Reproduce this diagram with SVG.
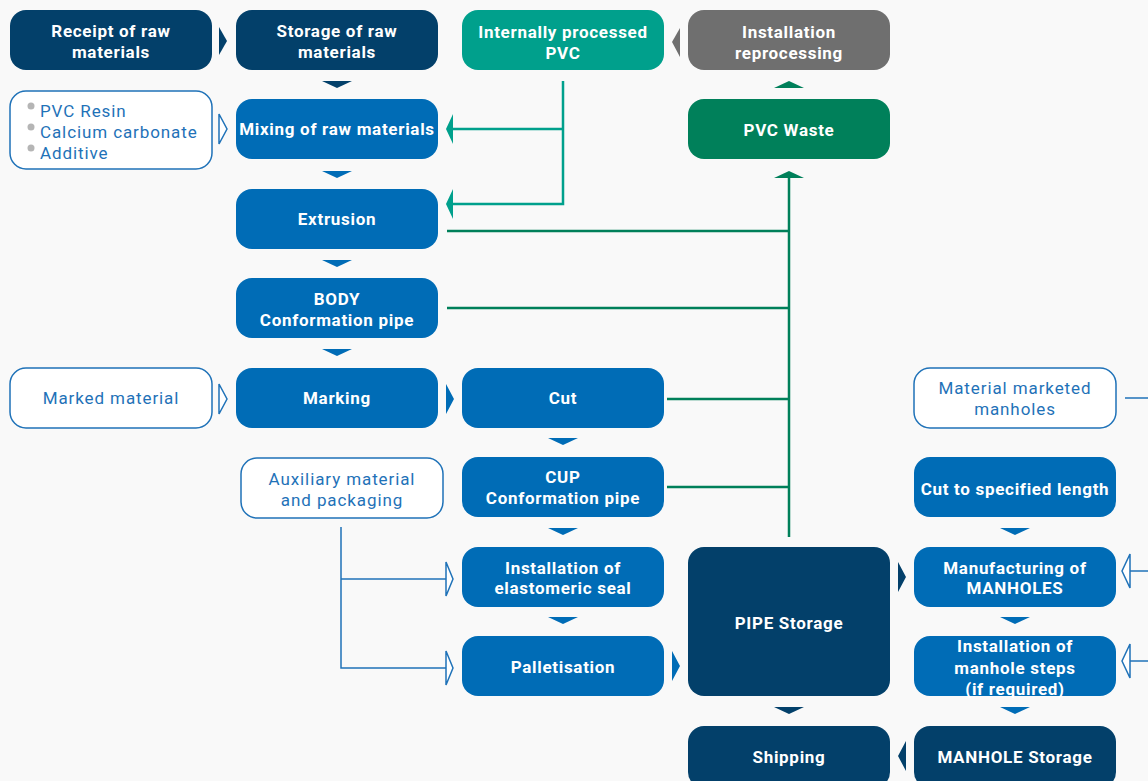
<svg xmlns="http://www.w3.org/2000/svg" width="1148" height="781" viewBox="0 0 1148 781">
<style>
.n{fill:#03406a}
.b{fill:#006cb6}
.w{fill:#ffffff;stroke:#1f72b8;stroke-width:1.5}
.t{font-family:Roboto,"Liberation Sans",sans-serif;font-weight:bold;font-size:17px;letter-spacing:0.7px;fill:#ffffff;text-anchor:middle}
.r{font-family:Roboto,"Liberation Sans",sans-serif;font-size:17px;letter-spacing:0.9px;fill:#1f72b8;text-anchor:middle}
.rl{font-family:Roboto,"Liberation Sans",sans-serif;font-size:17px;letter-spacing:0.9px;fill:#1f72b8}
.gl{stroke:#00805a;stroke-width:2.5;fill:none}
.tl{stroke:#00a08c;stroke-width:2.5;fill:none}
.bl{stroke:#1f72b8;stroke-width:1.5;fill:none}
.oa{fill:#ffffff;stroke:#1f72b8;stroke-width:1.5}
</style>
<rect x="0" y="0" width="1148" height="781" fill="#f9f9f9"/>

<g id="connectors">
  <polyline class="tl" points="563,81 563,204 450,204"/>
  <line class="tl" x1="563" y1="129" x2="450" y2="129"/>
  <polygon fill="#00a08c" points="446,129 453,114 453,144"/>
  <polygon fill="#00a08c" points="446,204 453,189 453,219"/>
  <line class="gl" x1="447" y1="231" x2="789" y2="231"/>
  <line class="gl" x1="447" y1="308" x2="789" y2="308"/>
  <line class="gl" x1="667" y1="399" x2="789" y2="399"/>
  <line class="gl" x1="667" y1="487" x2="789" y2="487"/>
  <line class="gl" x1="789" y1="177" x2="789" y2="537"/>
  <polygon fill="#00805a" points="774,178 789,171 804,178"/>
  <polygon fill="#00805a" points="774,88 789,81 804,88"/>
  <polygon fill="#6f6f6f" points="680,28 672,42 680,57"/>
  <polygon fill="#03406a" points="219,27 227,41 219,55"/>
  <polygon fill="#03406a" points="322,81 352,81 337,88"/>
  <polygon class="oa" points="219,114 227,129 219,144"/>
  <polygon fill="#006cb6" points="322,171 352,171 337,178"/>
  <polygon fill="#006cb6" points="322,260 352,260 337,267"/>
  <polygon fill="#006cb6" points="322,349 352,349 337,356"/>
  <polygon class="oa" points="219,384 227,399 219,414"/>
  <polygon fill="#006cb6" points="446,384 454,399 446,414"/>
  <polygon fill="#006cb6" points="548,438 578,438 563,445"/>
  <polygon fill="#006cb6" points="548,528 578,528 563,535"/>
  <polygon fill="#006cb6" points="548,617 578,617 563,624"/>
  <polygon fill="#006cb6" points="672,651 680,666 672,681"/>
  <polygon fill="#03406a" points="898,562 906,577 898,592"/>
  <polygon fill="#03406a" points="774,707 804,707 789,714"/>
  <polygon fill="#03406a" points="906,741 898,756 906,771"/>
  <polygon fill="#006cb6" points="1000,528 1030,528 1015,535"/>
  <polygon fill="#006cb6" points="1000,617 1030,617 1015,624"/>
  <polygon fill="#006cb6" points="1000,707 1030,707 1015,714"/>
  <polyline class="bl" points="341,527 341,668 446,668"/>
  <line class="bl" x1="341" y1="579" x2="446" y2="579"/>
  <polygon class="oa" points="446,562 453,579 446,596"/>
  <polygon class="oa" points="446,651 453,668 446,685"/>
  <line class="bl" x1="1125" y1="398" x2="1148" y2="398"/>
  <line class="bl" x1="1130" y1="571" x2="1148" y2="571"/>
  <polygon class="oa" points="1130,554 1122,571 1130,588"/>
  <line class="bl" x1="1130" y1="661" x2="1148" y2="661"/>
  <polygon class="oa" points="1130,644 1122,661 1130,678"/>
</g>

<g id="receipt"><rect class="n" x="10" y="10" width="202" height="60" rx="16"/><text class="t" x="111" y="37">Receipt of raw</text><text class="t" x="111" y="58">materials</text></g>
<g id="storage-raw"><rect class="n" x="236" y="10" width="202" height="60" rx="16"/><text class="t" x="337" y="37">Storage of raw</text><text class="t" x="337" y="58">materials</text></g>
<g id="internal-pvc"><rect fill="#00a08c" x="462" y="10" width="202" height="60" rx="16"/><text class="t" x="563" y="38">Internally processed</text><text class="t" x="563" y="59">PVC</text></g>
<g id="install-reproc"><rect fill="#6f6f6f" x="688" y="10" width="202" height="60" rx="16"/><text class="t" x="789" y="38">Installation</text><text class="t" x="789" y="59">reprocessing</text></g>

<g id="raw-list"><rect class="w" x="10" y="91" width="202" height="78" rx="16"/>
  <circle cx="31" cy="106" r="3.5" fill="#b5b5b5"/><circle cx="31" cy="127" r="3.5" fill="#b5b5b5"/><circle cx="31" cy="148" r="3.5" fill="#b5b5b5"/>
  <text class="rl" x="40" y="117">PVC Resin</text><text class="rl" x="40" y="138">Calcium carbonate</text><text class="rl" x="40" y="159">Additive</text></g>
<g id="mixing"><rect class="b" x="236" y="99" width="202" height="60" rx="16"/><text class="t" x="337" y="135">Mixing of raw materials</text></g>
<g id="pvc-waste"><rect fill="#00805a" x="688" y="99" width="202" height="60" rx="16"/><text class="t" x="789" y="136">PVC Waste</text></g>
<g id="extrusion"><rect class="b" x="236" y="189" width="202" height="60" rx="16"/><text class="t" x="337" y="225">Extrusion</text></g>
<g id="body"><rect class="b" x="236" y="278" width="202" height="60" rx="16"/><text class="t" x="337" y="305">BODY</text><text class="t" x="337" y="326">Conformation pipe</text></g>
<g id="marked-material"><rect class="w" x="10" y="368" width="202" height="60" rx="16"/><text class="r" x="111" y="404">Marked material</text></g>
<g id="marking"><rect class="b" x="236" y="368" width="202" height="60" rx="16"/><text class="t" x="337" y="404">Marking</text></g>
<g id="cut"><rect class="b" x="462" y="368" width="202" height="60" rx="16"/><text class="t" x="563" y="404">Cut</text></g>
<g id="material-manholes"><rect class="w" x="914" y="368" width="202" height="60" rx="16"/><text class="r" x="1015" y="394">Material marketed</text><text class="r" x="1015" y="415">manholes</text></g>
<g id="auxiliary"><rect class="w" x="241" y="458" width="202" height="60" rx="16"/><text class="r" x="342" y="485">Auxiliary material</text><text class="r" x="342" y="506">and packaging</text></g>
<g id="cup"><rect class="b" x="462" y="457" width="202" height="60" rx="16"/><text class="t" x="563" y="483">CUP</text><text class="t" x="563" y="504">Conformation pipe</text></g>
<g id="cut-length"><rect class="b" x="914" y="457" width="202" height="60" rx="16"/><text class="t" x="1015" y="495">Cut to specified length</text></g>
<g id="seal"><rect class="b" x="462" y="547" width="202" height="60" rx="16"/><text class="t" x="563" y="574">Installation of</text><text class="t" x="563" y="594">elastomeric seal</text></g>
<g id="manufacturing"><rect class="b" x="914" y="547" width="202" height="60" rx="16"/><text class="t" x="1015" y="574">Manufacturing of</text><text class="t" x="1015" y="594">MANHOLES</text></g>
<g id="pipe-storage"><rect class="n" x="688" y="547" width="202" height="149" rx="16"/><text class="t" x="789" y="629">PIPE Storage</text></g>
<g id="palletisation"><rect class="b" x="462" y="636" width="202" height="60" rx="16"/><text class="t" x="563" y="673">Palletisation</text></g>
<g id="steps"><rect class="b" x="914" y="636" width="202" height="60" rx="16"/><text class="t" x="1015" y="652">Installation of</text><text class="t" x="1015" y="674">manhole steps</text><text class="t" x="1015" y="695">(if required)</text></g>
<g id="shipping"><rect class="n" x="688" y="726" width="202" height="62" rx="16"/><text class="t" x="789" y="763">Shipping</text></g>
<g id="manhole-storage"><rect class="n" x="914" y="726" width="202" height="62" rx="16"/><text class="t" x="1015" y="763">MANHOLE Storage</text></g>
</svg>
